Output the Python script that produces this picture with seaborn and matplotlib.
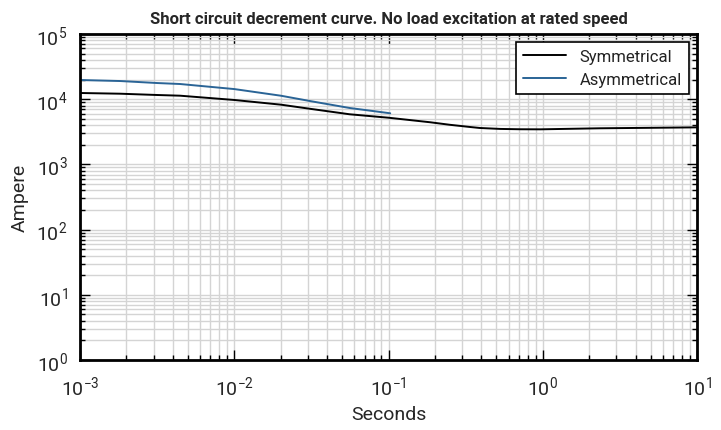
import numpy as np
import pandas as pd
import matplotlib
matplotlib.use('Agg')
import matplotlib.pyplot as plt
import seaborn as sns

# values (seconds, ampere)
sym_t = [0.001, 0.00182, 0.00316, 0.00445, 0.01, 0.0201, 0.0316, 0.056, 0.1,
         0.186, 0.25, 0.337, 0.39, 0.53, 0.71, 0.96, 2.35, 4.95, 10.0]
sym_a = [12450, 12140, 11600, 11320, 9730, 8240, 7080, 5870, 5200,
         4430, 4050, 3750, 3620, 3500, 3460, 3450, 3580, 3640, 3700]

asym_t = [0.001, 0.00182, 0.00316, 0.00445, 0.01, 0.0201, 0.0316, 0.056, 0.1026]
asym_a = [19700, 19000, 17700, 17100, 14300, 11300, 9290, 7330, 6080]

df = pd.concat([
    pd.DataFrame({'Seconds': sym_t, 'Ampere': sym_a, 'curve': 'Symmetrical'}),
    pd.DataFrame({'Seconds': asym_t, 'Ampere': asym_a, 'curve': 'Asymmetrical'}),
])

sns.set_style('ticks')
plt.rcParams['font.family'] = ['Roboto', 'DejaVu Sans']
plt.rcParams['mathtext.fontset'] = 'custom'
plt.rcParams['mathtext.rm'] = 'Roboto'

fig = plt.figure(figsize=(7.21, 4.31), dpi=100)
ax = fig.add_axes([0.111, 0.1624, 0.8557, 0.7564])

sns.lineplot(data=df, x='Seconds', y='Ampere', hue='curve', sort=False,
             palette={'Symmetrical': 'black', 'Asymmetrical': '#2a6496'},
             linewidth=1.4, ax=ax)

ax.set_xscale('log')
ax.set_yscale('log')
ax.set_xlim(1e-3, 10)
ax.set_ylim(1, 1e5)
ax.set_xticks([1e-3, 1e-2, 1e-1, 1, 10])
ax.set_yticks([1, 10, 100, 1e3, 1e4, 1e5])
ax.xaxis.set_minor_locator(matplotlib.ticker.LogLocator(base=10, subs=np.arange(2, 10), numticks=20))
ax.yaxis.set_minor_locator(matplotlib.ticker.LogLocator(base=10, subs=np.arange(2, 10), numticks=20))
ax.xaxis.set_minor_formatter(matplotlib.ticker.NullFormatter())
ax.yaxis.set_minor_formatter(matplotlib.ticker.NullFormatter())

ax.grid(True, which='both', color='#d4d4d4', linewidth=1.0)
ax.set_axisbelow(True)
ax.tick_params(which='both', direction='in', top=True, right=True, labelsize=14, color='black')
ax.tick_params(which='major', length=7, width=1)
ax.tick_params(which='minor', length=3.5, width=1)
ax.tick_params(axis='x', which='major', pad=10)
ax.tick_params(axis='y', which='major', pad=9)
for s in ax.spines.values():
    s.set_linewidth(2)
    s.set_color('black')

ax.set_xlabel('Seconds', fontsize=14, labelpad=5)
ax.set_ylabel('Ampere', fontsize=14, labelpad=5)
ax.set_title('Short circuit decrement curve. No load excitation at rated speed',
             fontsize=12, fontweight='bold', pad=8)

leg = ax.legend(loc='upper right', fontsize=12, frameon=True, fancybox=False,
                edgecolor='black', framealpha=1, borderaxespad=0.5, handlelength=2.6)
leg.get_frame().set_linewidth(1.2)
for t in leg.get_texts():
    t.set_color('#222222')

fig.savefig('out.png', dpi=100)
